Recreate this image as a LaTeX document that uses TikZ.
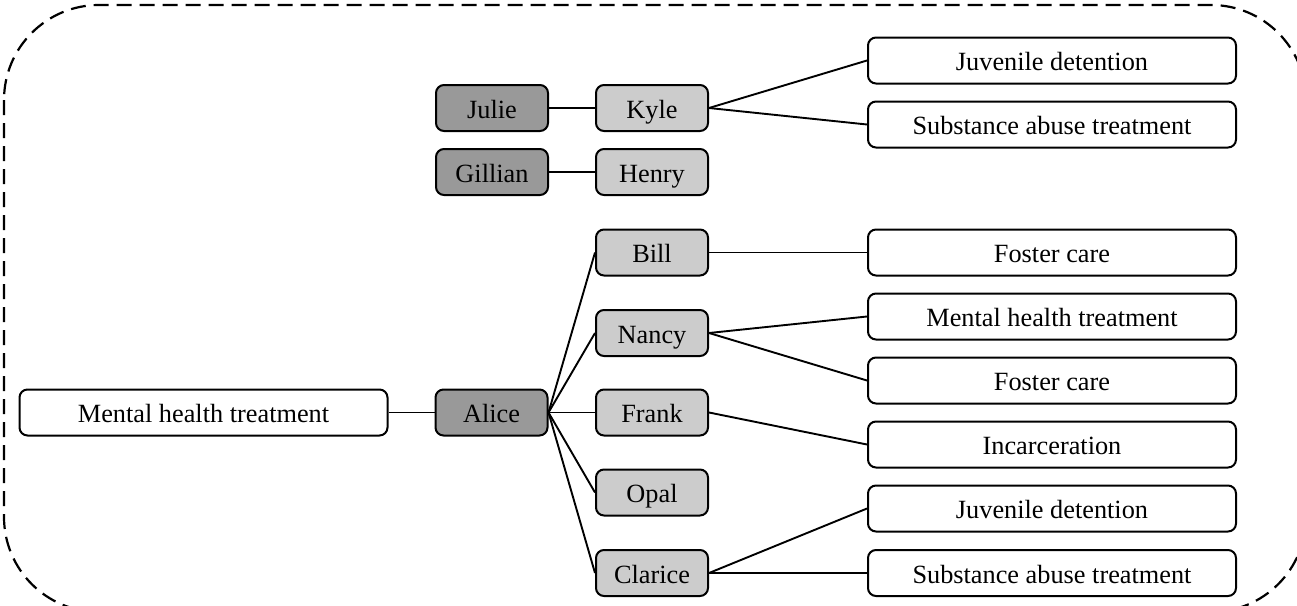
\documentclass[tikz,border=0pt]{standalone}
\usepackage{fontspec}
\setmainfont{Liberation Serif}
\begin{document}
\begin{tikzpicture}[x=1pt,y=-1pt,
  box/.style={draw=black, line width=2pt, rounded corners=8pt, minimum height=46pt, inner sep=0pt,
    text height=20.6pt, text depth=0pt, font=\fontsize{26.3}{30}\selectfont},
  dark/.style={box, fill=black!40, minimum width=112pt},
  light/.style={box, fill=black!20, minimum width=112pt},
  wide/.style={box, fill=white, minimum width=368pt},
  link/.style={draw=black, line width=1.9pt}]
\useasboundingbox (0,0) rectangle (1297,605);
\draw[line width=2.2pt, dash pattern=on 15pt off 8pt, rounded corners=95pt] (4,5) rectangle (1306,612);

\node[wide] (mhtL) at (203.5,412.5) {Mental health treatment};
\node[dark] (alice) at (491.5,412.5) {Alice};
\node[dark] (julie) at (492,108) {Julie};
\node[light] (kyle) at (652,108) {Kyle};
\node[dark] (gillian) at (492,172) {Gillian};
\node[light] (henry) at (652,172) {Henry};
\node[wide] (jd1) at (1052,60.5) {Juvenile detention};
\node[wide] (sa1) at (1052,124.5) {Substance abuse treatment};
\node[light] (bill) at (652,252.5) {Bill};
\node[wide] (fc1) at (1052,252.5) {Foster care};
\node[light] (nancy) at (652,333) {Nancy};
\node[wide] (mht2) at (1052,316.5) {Mental health treatment};
\node[wide] (fc2) at (1052,380.5) {Foster care};
\node[light] (frank) at (652,412.5) {Frank};
\node[wide] (inc) at (1052,444.5) {Incarceration};
\node[light] (opal) at (652,492.5) {Opal};
\node[light] (clarice) at (652,573) {Clarice};
\node[wide] (jd2) at (1052,508.5) {Juvenile detention};
\node[wide] (sa2) at (1052,573) {Substance abuse treatment};

\draw[link] (julie.east) -- (kyle.west);
\draw[link] (gillian.east) -- (henry.west);
\draw[link] (kyle.east) -- (jd1.west);
\draw[link] (kyle.east) -- (sa1.west);
\draw[link] (mhtL.east) -- (alice.west);
\foreach \c in {bill,nancy,frank,opal,clarice} \draw[link] (alice.east) -- (\c.west);
\draw[link] (bill.east) -- (fc1.west);
\draw[link] (nancy.east) -- (mht2.west);
\draw[link] (nancy.east) -- (fc2.west);
\draw[link] (frank.east) -- (inc.west);
\draw[link] (clarice.east) -- (jd2.west);
\draw[link] (clarice.east) -- (sa2.west);
\end{tikzpicture}
\end{document}
